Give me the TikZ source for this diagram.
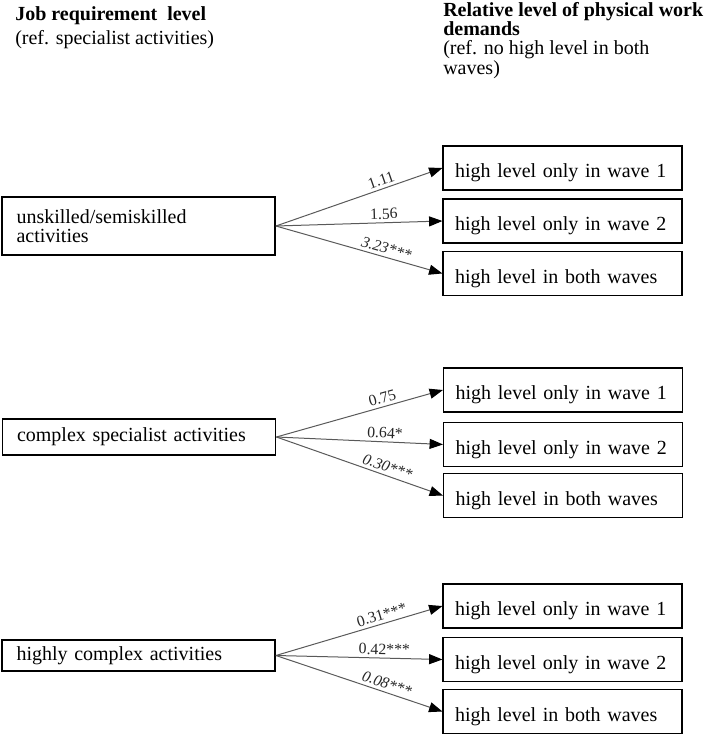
\documentclass[tikz,border=0pt]{standalone}
\usepackage{fontspec}
\setmainfont{Liberation Serif}
\usepackage{tikz}
\usetikzlibrary{arrows.meta, positioning}

\begin{document}
\begin{tikzpicture}[x=0.75pt, y=-0.75pt,
    job/.style={draw, line width=1.1pt, text width=183pt, align=left, inner xsep=11pt, font=\fontsize{15}{14.3}\selectfont},
    wave/.style={draw, line width=1.1pt, minimum height=33pt, text width=161pt, align=left, inner xsep=9pt, text height=17.3pt, text depth=2.8pt, font=\fontsize{15}{14.3}\selectfont},
    coef/.style={font=\fontsize{11.8}{12}\selectfont, sloped, above, pos=0.65, inner sep=2.2pt, text=black!85},
    head/.style={align=left, inner sep=0pt, anchor=north west, font=\fontsize{15}{14.3}\selectfont},
    path/.style={->, draw=black!65, line width=0.75pt},
    >={Triangle[length=10pt, width=7.5pt, color=black]}, node distance=318pt]
      \useasboundingbox (0,0) rectangle (709,736);
      \node[head] (job_head) at (15,6.5) {\textbf{Job requirement\ \ level}\\[3.5pt](ref. specialist activities)};
      \node[head] (demand_head) at (443,2.5) {\textbf{Relative level of physical work}\\\textbf{demands}\\(ref. no high level in both\\waves)};

      \node[job, minimum height=43.5pt] (unskilled) at (138.5,226) {unskilled/semiskilled\\activities};
      \node[wave, right of=unskilled, yshift=+43.5pt] (u_w1) {high level only in wave 1};
      \node[wave, right of=unskilled, yshift=+3.75pt] (u_w2) {high level only in wave 2};
      \node[wave, right of=unskilled, yshift=-35.6pt] (u_both) {high level in both waves};
      \draw[path] (unskilled.east) -- node[coef] {1.11} (u_w1.west);
      \draw[path] (unskilled.east) -- node[coef] {1.56} (u_w2.west);
      \draw[path] (unskilled.east) -- node[coef] {\textit{3.23***}} (u_both.west);

      \node[job, minimum height=27pt] (complex) at (139,437) {complex specialist activities};
      \node[wave, right of=complex, yshift=+35.25pt] (c_w1) {high level only in wave 1};
      \node[wave, right of=complex, yshift=-5.6pt] (c_w2) {high level only in wave 2};
      \node[wave, right of=complex, yshift=-43.9pt] (c_both) {high level in both waves};
      \draw[path] (complex.east) -- node[coef] {0.75} (c_w1.west);
      \draw[path] (complex.east) -- node[coef] {0.64*} (c_w2.west);
      \draw[path] (complex.east) -- node[coef] {\textit{0.30***}} (c_both.west);

      \node[job, minimum height=23.25pt] (highly) at (138.5,655.5) {highly complex activities};
      \node[wave, right of=highly, yshift=+37.1pt] (h_w1) {high level only in wave 1};
      \node[wave, right of=highly, yshift=-3pt] (h_w2) {high level only in wave 2};
      \node[wave, right of=highly, yshift=-42pt] (h_both) {high level in both waves};
      \draw[path] (highly.east) -- node[coef] {0.31***} (h_w1.west);
      \draw[path] (highly.east) -- node[coef] {0.42***} (h_w2.west);
      \draw[path] (highly.east) -- node[coef] {\textit{0.08***}} (h_both.west);
    \end{tikzpicture}
\end{document}
